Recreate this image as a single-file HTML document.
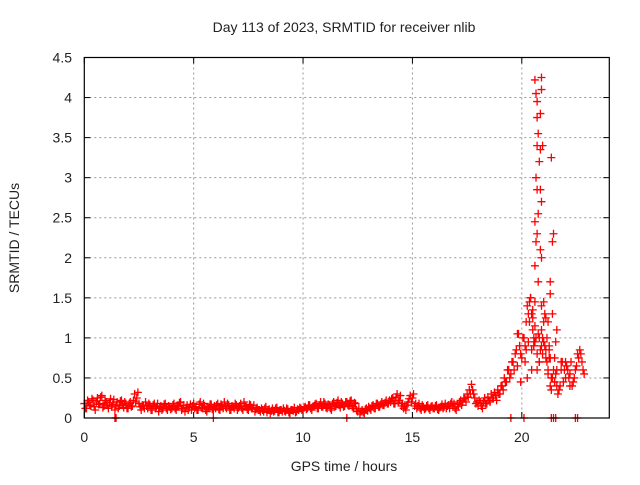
<!DOCTYPE html>
<html><head><meta charset="utf-8"><style>
body{margin:0;background:#fff;}
svg text{font-family:"Liberation Sans",sans-serif;font-size:14px;fill:#222;}
</style></head><body>
<svg id="chart" width="640" height="480">
<rect width="640" height="480" fill="#fff"/>
<text x="344" y="32" text-anchor="middle">Day 113 of 2023, SRMTID for receiver nlib</text>
<text x="344" y="471" text-anchor="middle">GPS time / hours</text>
<text transform="translate(19,238) rotate(-90)" text-anchor="middle">SRMTID / TECUs</text>
<g id="grid"></g><g id="marks"></g>
<rect x="84.3" y="57.5" width="525" height="360.5" fill="none" stroke="#000" stroke-width="1.2"/>
</svg>
<script>
const xTicks=[0,5,10,15,20];
const yTicks=[0,0.5,1,1.5,2,2.5,3,3.5,4,4.5];
const yTickLabels=["0","0.5","1","1.5","2","2.5","3","3.5","4","4.5"];
const baseStart=0, baseStep=0.1;
const baseValues=[0.18,0.12,0.2,0.15,0.22,0.1,0.25,0.18,0.28,0.15,0.2,0.12,0.24,0.17,0.1,0.2,0.15,0.22,0.13,0.18,
0.12,0.2,0.15,0.3,0.25,0.18,0.1,0.15,0.2,0.12,0.16,0.1,0.18,0.14,0.08,0.15,0.12,0.18,0.1,0.14,
0.12,0.18,0.1,0.15,0.2,0.12,0.08,0.16,0.13,0.1,0.18,0.14,0.1,0.2,0.12,0.15,0.08,0.13,0.17,0.1,
0.12,0.18,0.1,0.15,0.2,0.12,0.16,0.1,0.14,0.18,0.1,0.15,0.12,0.2,0.14,0.1,0.16,0.12,0.08,0.13,
0.1,0.12,0.08,0.14,0.1,0.06,0.12,0.09,0.13,0.07,0.1,0.12,0.08,0.11,0.06,0.1,0.13,0.08,0.1,0.12,
0.1,0.14,0.12,0.16,0.1,0.15,0.18,0.12,0.2,0.14,0.18,0.12,0.16,0.1,0.2,0.15,0.22,0.13,0.18,0.15,
0.2,0.15,0.22,0.12,0.18,0.08,0.05,0.1,0.06,0.12,0.14,0.1,0.16,0.12,0.18,0.14,0.2,0.16,0.22,0.18,
0.2,0.25,0.18,0.3,0.22,0.15,0.12,0.1,0.2,0.28,0.25,0.15,0.12,0.18,0.1,0.14,0.12,0.16,0.1,0.15,
0.12,0.16,0.1,0.14,0.12,0.18,0.15,0.12,0.2,0.18,0.1,0.14,0.22,0.2,0.25,0.3,0.35,0.42,0.3,0.18,
0.15,0.2,0.12,0.25,0.18,0.22,0.3,0.25,0.28,0.35,0.3,0.4,0.5,0.45,0.6,0.55,0.7,0.8,0.65,0.9,
0.75,1.0,0.85,1.3,1.5,1.1,0.95,0.8,0.7,0.9,1.2,0.85,0.6,0.75,0.5,0.45,0.4,0.35,0.6,0.45,
0.7,0.6,0.55,0.4,0.5,0.65,0.75,0.8,0.6];
const baseValues2=[0.12,0.22,0.16,0.24,0.14,0.2,0.17,0.26,0.13,0.22,0.16,0.19,0.14,0.23,0.16,0.12,0.21,0.16,0.2,0.12,
0.18,0.14,0.22,0.2,0.32,0.14,0.16,0.12,0.15,0.18,0.1,0.16,0.12,0.18,0.13,0.1,0.17,0.12,0.15,0.11,
0.16,0.12,0.14,0.19,0.1,0.16,0.13,0.1,0.17,0.15,0.12,0.1,0.17,0.13,0.18,0.1,0.14,0.17,0.11,0.15,
0.16,0.11,0.17,0.12,0.14,0.18,0.1,0.15,0.12,0.16,0.13,0.18,0.1,0.15,0.11,0.17,0.12,0.16,0.11,0.1,
0.08,0.1,0.12,0.07,0.11,0.09,0.08,0.12,0.07,0.1,0.08,0.09,0.12,0.07,0.1,0.09,0.07,0.11,0.13,0.1,
0.13,0.11,0.16,0.12,0.14,0.17,0.12,0.16,0.14,0.2,0.13,0.17,0.12,0.18,0.14,0.19,0.16,0.2,0.14,0.2,
0.16,0.21,0.14,0.19,0.1,0.12,0.08,0.07,0.11,0.09,0.12,0.15,0.12,0.18,0.14,0.17,0.16,0.19,0.18,0.22,
0.24,0.18,0.26,0.2,0.28,0.18,0.14,0.16,0.24,0.2,0.3,0.18,0.15,0.12,0.16,0.11,0.15,0.12,0.14,0.12,
0.15,0.11,0.13,0.17,0.14,0.12,0.16,0.18,0.14,0.12,0.17,0.2,0.16,0.24,0.2,0.26,0.3,0.35,0.25,0.2,
0.22,0.15,0.2,0.18,0.26,0.2,0.25,0.32,0.22,0.3,0.4,0.35,0.45,0.6,0.5,0.7,0.6,0.85,1.05,0.8,
1.0,0.9,1.4,1.2,1.3,0.9,1.0,1.05,0.85,1.0,0.9,0.7,0.75,0.5,0.6,0.55,0.3,0.4,0.7,0.6,
0.65,0.5,0.7,0.45,0.6,0.8,0.85,0.7,0.55];
const spikeTimes=[20.6,20.9,20.65,20.9,20.7,20.85,20.7,20.75,20.85,20.7,20.8,20.95,21.35,20.65,20.7,20.85,20.75,20.9,20.6,20.7,21.45,20.65,20.85,20.9,20.6,21.4,20.75,21.3,21.3,20.6,20.9,21.1,21.2,20.5,20.55,20.8,21.0,21.1,20.7,21.2,21.5,21.6,21.8,22.0,22.2,20.45,19.9,19.8,20.2,20.35,20.3,
20.4,20.5,20.6,21.0,21.05,21.15,21.25,21.4,20.95,20.8,20.55,21.3,21.5,21.35,20.25,20.15,19.95,21.55,21.6,20.9,21.25,20.45];
const spikeValues=[4.22,4.25,4.05,4.1,3.95,3.8,3.75,3.55,3.35,3.4,3.2,3.4,3.25,3.0,2.85,2.85,2.55,2.7,2.45,2.3,2.3,2.2,2.1,2.0,1.9,2.2,1.7,1.7,1.55,1.45,1.4,1.25,1.2,1.25,1.0,1.0,0.95,0.75,0.6,0.55,0.45,0.6,0.7,0.5,0.4,0.85,0.9,1.05,1.2,1.45,0.95,
1.5,1.35,1.15,1.45,1.3,1.0,0.9,1.3,0.8,0.7,0.9,0.4,0.75,0.35,0.5,0.7,0.45,0.95,1.1,1.1,0.85,0.6];
const zeroTimes=[1.4,1.45,5.9,12.0,19.5,20.1,21.35,21.45,21.55,22.45,22.55];

const X=t=>84.3+t*(525/24);
const Y=v=>418-v*(360.5/4.5);
const NS="http://www.w3.org/2000/svg";
const grid=document.getElementById('grid'), marks=document.getElementById('marks');
function mk(tag,attrs,parent){const e=document.createElementNS(NS,tag);for(const k in attrs)e.setAttribute(k,attrs[k]);parent.appendChild(e);return e;}
xTicks.forEach(t=>{
  if(t>0){const l=mk('line',{x1:X(t),x2:X(t),y1:57.5,y2:418,stroke:'#999','stroke-dasharray':'2,3'},grid);
  
  }
  mk('line',{x1:X(t),x2:X(t),y1:418,y2:412,stroke:'#000'},grid);
  mk('line',{x1:X(t),x2:X(t),y1:57.5,y2:63.5,stroke:'#000'},grid);
  const tx=mk('text',{x:X(t),y:442,'text-anchor':'middle'},grid);tx.textContent=t;
  
  
});
yTicks.forEach((v,i)=>{
  if(v>0&&v<4.5){const l=mk('line',{x1:84.3,x2:609.3,y1:Y(v),y2:Y(v),stroke:'#999','stroke-dasharray':'2,3'},grid);
  
  }
  mk('line',{x1:84.3,x2:90.3,y1:Y(v),y2:Y(v),stroke:'#000'},grid);
  mk('line',{x1:603.3,x2:609.3,y1:Y(v),y2:Y(v),stroke:'#000'},grid);
  const tx=mk('text',{x:72,y:Y(v)+5,'text-anchor':'end'},grid);tx.textContent=yTickLabels[i];
  
  
});
function plus(t,v){const x=X(t),y=Y(v);
  const p=mk('path',{d:`M${x-4},${y}H${x+4}M${x},${y-4}V${y+4}`,stroke:'#f00','stroke-width':1.3,fill:'none'},marks);
  
  }
baseValues.forEach((v,i)=>plus(baseStart+i*baseStep,v));
baseValues2.forEach((v,i)=>plus(baseStart+i*baseStep+0.05,v));
spikeValues.forEach((v,i)=>plus(spikeTimes[i],v));
zeroTimes.forEach(t=>plus(t,0));
</script>
</body></html>
